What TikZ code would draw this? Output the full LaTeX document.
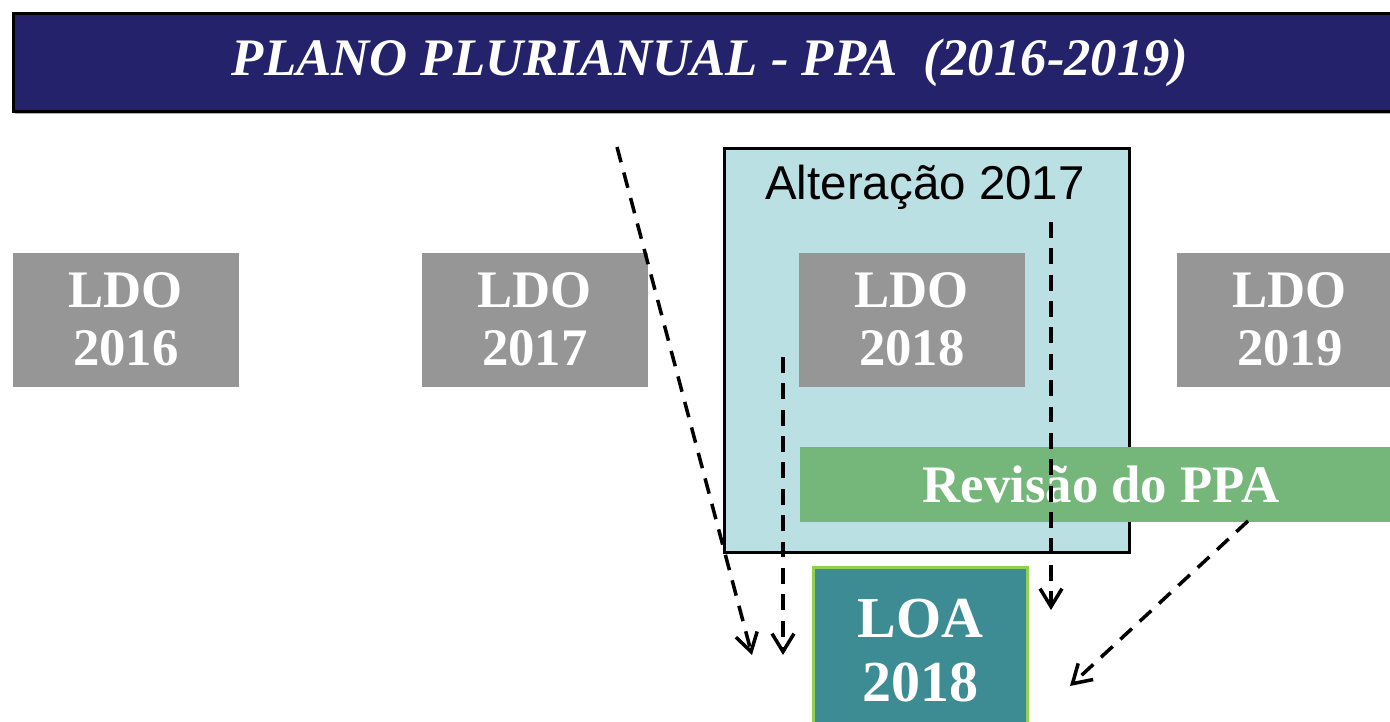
\documentclass[tikz,border=0pt]{standalone}
\usepackage{fontspec}
\setmainfont{Liberation Serif}
\newfontfamily\arialfont{Liberation Sans}
\usetikzlibrary{arrows.meta,shadows}
\definecolor{ppanavy}{RGB}{35,34,106}
\definecolor{ldogray}{RGB}{150,150,150}
\definecolor{altblue}{RGB}{187,224,227}
\definecolor{revgreen}{RGB}{117,182,122}
\definecolor{loateal}{RGB}{62,140,147}
\definecolor{loalime}{RGB}{146,208,80}

\begin{document}
\begin{tikzpicture}[x=0.01cm,y=-0.01cm,
	-{Straight Barb[length=1.8mm,width=2.2mm]},
	box node/.style={rectangle,anchor=north west,inner sep=0pt,align=center,text=white,font=\fontsize{15}{16.5}\selectfont\bfseries},
	title node/.style={box node,draw=black,line width=0.8pt,fill=ppanavy,minimum width=13.92cm,minimum height=0.98cm,
		drop shadow={shadow xshift=0.2mm,shadow yshift=-0.3mm,fill=gray!60,opacity=1}},
	ldo node/.style={box node,fill=ldogray,minimum width=2.26cm,minimum height=1.34cm},
	alt node/.style={rectangle,anchor=north west,draw=black,line width=0.8pt,fill=altblue,minimum width=4.05cm,minimum height=4.04cm},
	rev node/.style={box node,fill=revgreen,minimum width=6.02cm,minimum height=0.75cm},
	loa node/.style={box node,draw=loalime,line width=0.8pt,fill=loateal,minimum width=2.14cm,minimum height=1.66cm,font=\fontsize{16.5}{18.2}\selectfont\bfseries},
	dash line/.style={line width=1pt,dash pattern=on 4.5pt off 3pt}]

	\useasboundingbox (0,0) rectangle (1390,722);
	\clip (0,0) rectangle (1390,722);

	\node[title node] (ppa) at (12,12) {\itshape PLANO PLURIANUAL - PPA\ \ (2016-2019)};

	\node[alt node] (alt) at (723,147) {};
	\node[anchor=base,inner sep=0pt,font=\arialfont\fontsize{13.5}{16}\selectfont] (altlabel) at (925,200) {Alteração 2017};

	\node[ldo node] (ldo16) at (12,252) {LDO\\2016};
	\node[ldo node] (ldo17) at (421,252) {LDO\\2017};
	\node[ldo node] (ldo18) at (798,252) {LDO\\2018};
	\node[ldo node] (ldo19) at (1176,252) {LDO\\2019};

	\node[rev node] (rev) at (799,446) {Revisão do PPA};
	\node[loa node] (loa) at (812,566) {LOA\\2018};

	\coordinate (s1) at (617,147);
	\coordinate (e1) at (752,655);
	\coordinate (s2) at (783,357);
	\coordinate (e2) at (783,655);
	\coordinate (s3) at (1051,222);
	\coordinate (e3) at (1051,610);
	\coordinate (s4) at (1248,521);
	\coordinate (e4) at (1070,686);

	\path[dash line]
	(s1) edge (e1)
	(s2) edge (e2)
	(s3) edge (e3)
	(s4) edge (e4);
\end{tikzpicture}
\end{document}
